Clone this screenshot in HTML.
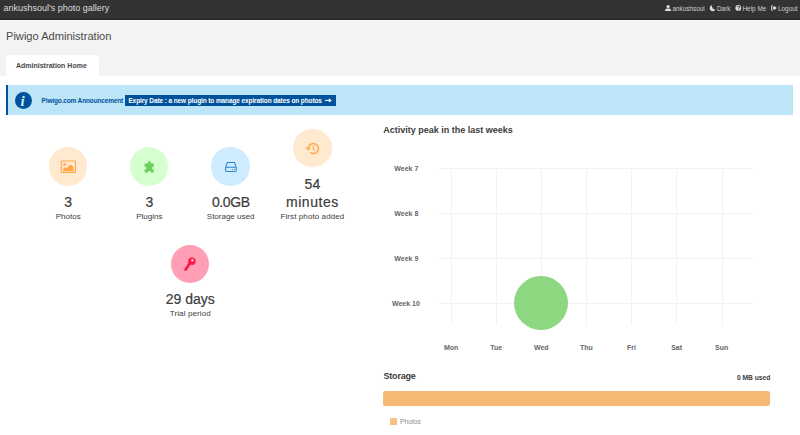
<!DOCTYPE html>
<html><head><meta charset="utf-8">
<style>
*{box-sizing:border-box;margin:0;padding:0}
html,body{width:800px;height:435px;overflow:hidden;background:#fff;font-family:"Liberation Sans",sans-serif;color:#3c3c3c}
div,span{position:absolute;white-space:nowrap}
#top{left:0;top:0;width:800px;height:21px;background:linear-gradient(#333 0,#333 18.3px,#2a2a2a 18.3px,#2a2a2a 19.6px,#fafafa 19.6px,#f6f6f6 21px)}
#title{left:3.5px;top:0.8px;font-size:9px;line-height:14px;color:#dcdcdc}
.nav{top:4.7px;font-size:6.4px;line-height:8px;color:#cfcfcf}
#gray{left:0;top:21px;width:800px;height:55px;background:#f3f3f3}
#h1{left:6px;top:29.4px;font-size:11.1px;line-height:14px;color:#4a4a4a}
#tab{left:6px;top:55px;width:93px;height:21px;background:#fff;border-radius:3px 3px 0 0}
#tabt{left:16px;top:55px;font-size:7px;font-weight:bold;color:#474747;line-height:21px}
#ann{left:6px;top:85px;width:787px;height:30px;background:#bde5f8;border-left:2px solid #00529b}
#anni{left:14.9px;top:91.8px;width:17.4px;height:17.4px;border-radius:50%;background:#00529b}
#annt{left:41.6px;top:96px;font-size:6.5px;letter-spacing:-0.15px;font-weight:bold;color:#00529b;line-height:10.5px}
#annb{left:125px;top:95.4px;width:210.5px;height:10.5px;background:#00529b}
#annbt{left:128.4px;top:95.7px;font-size:6.5px;letter-spacing:-0.105px;font-weight:bold;color:#fff;line-height:10.5px}
.circ{width:38.4px;height:38.4px;border-radius:50%}
.num{-webkit-text-stroke:0.2px #3c3c3c;font-size:14px;line-height:18px;color:#3c3c3c;text-align:center;transform:translateX(-50%)}
.lbl{margin-top:0.6px;font-size:8px;line-height:10px;color:#3c3c3c;text-align:center;transform:translateX(-50%)}
.h3{font-size:9px;font-weight:bold;color:#3c3c3c;line-height:12px}
.wk{margin-top:0.5px;font-size:7px;font-weight:bold;color:#666;line-height:8px;text-align:right;transform:translate(-100%,-50%)}
.dy{font-size:7px;font-weight:bold;color:#666;line-height:8px;transform:translate(-50%,-50%)}
.hl{left:437.5px;width:316px;height:1px;background:#f2f2f2}
.vl{top:168px;width:1px;height:156.8px;background:#f2f2f2}
</style></head><body>
<div id="top"></div><div id="title">ankushsoul's photo gallery</div>
<span class="nav" style="left:672.4px">ankushsoul</span>
<span class="nav" style="left:717px">Dark</span>
<span class="nav" style="left:742.5px">Help Me</span>
<span class="nav" style="left:778px">Logout</span>
<div id="gray"></div>
<div id="h1">Piwigo Administration</div>
<div id="tab"></div><div id="tabt">Administration Home</div>
<div id="ann"></div><div id="anni"></div>
<div id="annt">Piwigo.com Announcement</div>
<div id="annb"></div><div id="annbt">Expiry Date : a new plugin to manage expiration dates on photos</div>

<div class="circ" style="left:48.9px;top:147.3px;background:#ffe9cf"></div>
<div class="circ" style="left:130.1px;top:147.3px;background:#d6ffcf"></div>
<div class="circ" style="left:211.3px;top:147.3px;background:#cfebff"></div>
<div class="circ" style="left:293.2px;top:129px;background:#ffe9cf"></div>
<div class="circ" style="left:171.1px;top:244.5px;background:#ff9fb5"></div>

<div class="num" style="left:68.2px;top:193px">3</div>
<div class="lbl" style="left:68.2px;top:211px">Photos</div>
<div class="num" style="left:149.3px;top:193px">3</div>
<div class="lbl" style="left:149.3px;top:211px">Plugins</div>
<div class="num" style="left:230.8px;top:193px;letter-spacing:-0.4px">0.0GB</div>
<div class="lbl" style="left:230.6px;top:211px">Storage used</div>
<div class="num" style="left:312.4px;top:175px">54</div>
<div class="num" style="left:312.4px;top:193px;letter-spacing:0.55px">minutes</div>
<div class="lbl" style="left:312.4px;top:211px;letter-spacing:0.1px">First photo added</div>
<div class="num" style="left:190.3px;top:289.6px">29 days</div>
<div class="lbl" style="left:190.3px;top:308px;letter-spacing:0.13px">Trial period</div>

<div class="h3" style="left:383.3px;top:123.8px">Activity peak in the last weeks</div>
<div class="hl" style="top:167.5px"></div><div class="hl" style="top:212.7px"></div><div class="hl" style="top:257.8px"></div><div class="hl" style="top:302.8px"></div>
<div class="vl" style="left:451px"></div><div class="vl" style="left:496px"></div><div class="vl" style="left:541px"></div><div class="vl" style="left:586px"></div><div class="vl" style="left:631px"></div><div class="vl" style="left:676.3px"></div><div class="vl" style="left:721.6px"></div>
<div class="wk" style="left:418.3px;top:168px">Week 7</div>
<div class="wk" style="left:418.3px;top:213.2px">Week 8</div>
<div class="wk" style="left:418.3px;top:258.3px">Week 9</div>
<div class="wk" style="left:419.8px;top:303.3px">Week 10</div>
<div style="left:514.2px;top:275.8px;width:54px;height:54px;border-radius:50%;background:rgba(134,213,121,0.95)"></div>
<div class="dy" style="left:451.2px;top:348px">Mon</div>
<div class="dy" style="left:496.3px;top:348px">Tue</div>
<div class="dy" style="left:541.3px;top:348px">Wed</div>
<div class="dy" style="left:586.4px;top:348px">Thu</div>
<div class="dy" style="left:631.5px;top:348px">Fri</div>
<div class="dy" style="left:676.6px;top:348px">Sat</div>
<div class="dy" style="left:721.7px;top:348px">Sun</div>

<div class="h3" style="left:383.5px;top:370px;letter-spacing:-0.2px">Storage</div>
<div style="left:770.4px;top:373.5px;font-size:6.7px;font-weight:bold;color:#3c3c3c;line-height:8px;transform:translateX(-100%)">0 MB used</div>
<div style="left:383.3px;top:391px;width:386.5px;height:14.7px;border-radius:2.5px;background:#f7ba75"></div>
<div style="left:390.4px;top:418px;width:6.6px;height:6.6px;background:#f9c285"></div>
<div style="left:400px;top:418px;font-size:6.7px;color:#8a8a8a;line-height:8px">Photos</div>

<svg style="position:absolute;left:0;top:0" width="800" height="435" viewBox="0 0 800 435">
<!-- info i -->
<text x="20.5" y="106.2" font-family="Liberation Serif" font-style="italic" font-weight="bold" font-size="15" fill="#d4ecfa">i</text>
<!-- picture -->
<g fill="none" stroke="#ffa646" stroke-width="1.1"><rect x="61.2" y="161" width="14.2" height="11.4" rx="0.8"/></g>
<circle cx="64.5" cy="164.4" r="1.35" fill="#ffa646"/>
<path d="M63.2 170.9 L63.2 169 L65.2 167 L66.6 168.4 L70.5 164.3 L73.6 167.5 L73.6 170.9 Z" fill="#ffa646"/>
<!-- puzzle -->
<path d="M148.3 163.4 a1.45 1.45 0 1 1 2.2 0 L153.8 163.5 L153.8 167 a1.2 1.2 0 1 0 0 2.2 L153.8 172.6 L151.2 172.6 a1.5 1.5 0 1 0 -3.4 0 L144.6 172.6 L144.6 169.2 a1.2 1.2 0 1 0 0 -2.2 L144.6 163.5 Z" fill="#6ccf5c"/>
<!-- hdd -->
<g fill="none" stroke="#2b86c8" stroke-width="1.05" stroke-linejoin="round"><path d="M225.6 167.4 L227.3 162.4 L234.5 162.4 L236.2 167.4"/><rect x="225.6" y="167.3" width="10.6" height="4.2" rx="0.9"/></g>
<circle cx="232.4" cy="169.5" r="0.6" fill="#2b86c8"/><circle cx="234.3" cy="169.5" r="0.6" fill="#2b86c8"/>
<!-- history -->
<g fill="none" stroke="#ffa646" stroke-width="1.4"><path d="M308.5 147.6 A5 5 0 1 1 310.5 152.6"/><path d="M313.3 145.7 L313.3 148.7 L314.9 150.5" stroke-linecap="round" stroke-linejoin="round" stroke-width="1.1"/></g>
<path d="M305.7 147.4 L310.7 147.4 L308.1 150.8 Z" fill="#ffa646"/>
<!-- key -->
<path d="M190 263 L185.6 269.6" stroke="#ff1744" stroke-width="2.7" stroke-linecap="round" fill="none"/>
<circle cx="191.9" cy="261.2" r="3.7" fill="#ff1744"/><circle cx="192.4" cy="260.2" r="1.3" fill="#ffc2cf"/>
<!-- user -->
<g fill="#dcdcdc"><circle cx="668.1" cy="6.6" r="1.6"/><path d="M664.9 10.9 Q664.9 8.6 667 8.4 L669.2 8.4 Q671.3 8.6 671.3 10.9 Z"/></g>
<!-- moon -->
<path d="M712.2 5.2 A3 3 0 1 0 715.4 9.4 A3.1 3.1 0 0 1 712.2 5.2 Z" fill="#dcdcdc"/>
<!-- help -->
<circle cx="738.3" cy="7.9" r="2.9" fill="#dcdcdc"/>
<text x="737" y="9.9" font-family="Liberation Sans" font-weight="bold" font-size="5.4" fill="#333">?</text>
<!-- logout -->
<g fill="none" stroke="#dcdcdc" stroke-width="0.9"><path d="M773.2 5.8 L771.5 5.8 L771.5 10.2 L773.2 10.2"/></g>
<path d="M772.8 7.1 L774.3 7.1 L774.3 5.5 L776.7 8 L774.3 10.5 L774.3 8.9 L772.8 8.9 Z" fill="#dcdcdc"/>
<!-- arrow -->
<path d="M325 100.4 L330 100.4" stroke="#fff" stroke-width="1.1" fill="none"/><path d="M328.9 98.2 L331.8 100.4 L328.9 102.6 Z" fill="#fff"/>
</svg>
</body></html>
